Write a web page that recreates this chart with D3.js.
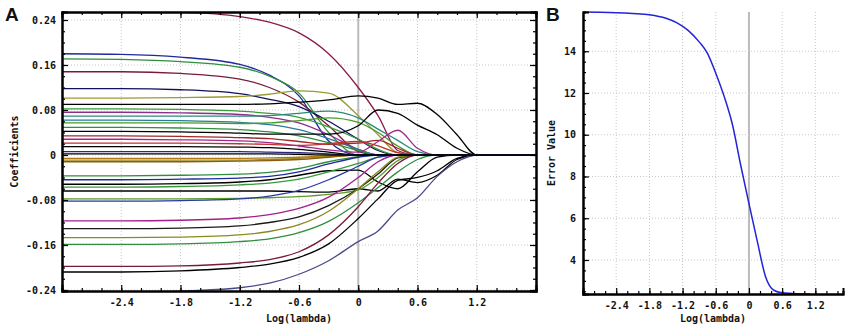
<!DOCTYPE html>
<html>
<head>
<meta charset="utf-8">
<script src="https://cdn.jsdelivr.net/npm/d3@7"></script>
<style>
  body { margin: 0; background: #fff; }
  text { font-family: "DejaVu Sans Mono", "Liberation Mono", monospace; font-size: 10px; font-weight: bold; fill: #111; }
  .panel { font-family: "Liberation Sans", Arial, sans-serif; font-size: 19px; font-weight: bold; }
</style>
</head>
<body>
<div id="chart"></div>
<script>
const lambdaKnots = [-3.0, -2.4, -1.8, -1.2, -0.9, -0.6, -0.3, 0, 0.2, 0.4, 0.6, 0.8, 1.0, 1.2, 1.8];

// coefficient paths (panel A), one row per variable
const coefSeries = [
  [0.256, 0.256, 0.254, 0.246, 0.236, 0.217, 0.180, 0.120, 0.070, 0.008, 0, 0, 0, 0, 0],
  [0.180, 0.179, 0.174, 0.161, 0.142, 0.105, 0.025, 0, 0, 0, 0, 0, 0, 0, 0],
  [0.171, 0.170, 0.166, 0.156, 0.140, 0.110, 0.040, 0, 0, 0, 0, 0, 0, 0, 0],
  [0.148, 0.148, 0.145, 0.135, 0.120, 0.094, 0.052, 0.006, 0, 0, 0, 0, 0, 0, 0],
  [0.118, 0.118, 0.116, 0.109, 0.099, 0.086, 0.060, 0.028, 0.008, 0, 0, 0, 0, 0, 0],
  [0.101, 0.101, 0.102, 0.104, 0.108, 0.114, 0.110, 0.070, 0.036, 0.004, 0, 0, 0, 0, 0],
  [0.090, 0.090, 0.090, 0.090, 0.091, 0.094, 0.098, 0.105, 0.101, 0.090, 0.092, 0.072, 0.036, 0, 0],
  [0.082, 0.082, 0.081, 0.078, 0.074, 0.067, 0.050, 0.028, 0.010, 0, 0, 0, 0, 0, 0],
  [0.076, 0.076, 0.075, 0.072, 0.067, 0.057, 0.036, 0.010, 0, 0, 0, 0, 0, 0, 0],
  [0.069, 0.069, 0.069, 0.069, 0.070, 0.074, 0.078, 0.066, 0.046, 0.026, 0.006, 0, 0, 0, 0],
  [0.062, 0.062, 0.061, 0.058, 0.054, 0.045, 0.029, 0.010, 0, 0, 0, 0, 0, 0, 0],
  [0.057, 0.057, 0.057, 0.056, 0.057, 0.061, 0.066, 0.058, 0.040, 0.016, 0, 0, 0, 0, 0],
  [0.049, 0.049, 0.048, 0.045, 0.041, 0.034, 0.022, 0.008, 0, 0, 0, 0, 0, 0, 0],
  [0.042, 0.042, 0.041, 0.039, 0.037, 0.037, 0.037, 0.052, 0.080, 0.074, 0.053, 0.036, 0.012, 0, 0],
  [0.034, 0.034, 0.033, 0.031, 0.029, 0.024, 0.019, 0.021, 0.026, 0.012, 0, 0, 0, 0, 0],
  [0.028, 0.028, 0.027, 0.025, 0.022, 0.016, 0.009, 0.005, 0.024, 0.044, 0.012, 0, 0, 0, 0],
  [0.021, 0.021, 0.021, 0.020, 0.019, 0.017, 0.020, 0.024, 0.016, 0.004, 0, 0, 0, 0, 0],
  [-0.006, -0.006, -0.006, -0.006, -0.005, -0.004, -0.002, 0, 0, 0, 0, 0, 0, 0, 0],
  [-0.009, -0.009, -0.009, -0.009, -0.008, -0.006, -0.003, 0, 0, 0, 0, 0, 0, 0, 0],
  [-0.012, -0.012, -0.012, -0.011, -0.010, -0.008, -0.004, 0, 0, 0, 0, 0, 0, 0, 0],
  [-0.037, -0.037, -0.036, -0.034, -0.031, -0.024, -0.012, -0.003, 0, 0, 0, 0, 0, 0, 0],
  [-0.044, -0.044, -0.043, -0.041, -0.038, -0.030, -0.016, -0.004, 0, 0, 0, 0, 0, 0, 0],
  [-0.052, -0.052, -0.051, -0.048, -0.044, -0.036, -0.028, -0.027, -0.048, -0.060, -0.030, -0.004, 0, 0, 0],
  [-0.057, -0.057, -0.056, -0.053, -0.050, -0.043, -0.030, -0.015, -0.004, 0, 0, 0, 0, 0, 0],
  [-0.064, -0.064, -0.064, -0.064, -0.064, -0.065, -0.066, -0.060, -0.064, -0.043, -0.049, -0.036, -0.008, 0, 0],
  [-0.078, -0.078, -0.078, -0.077, -0.076, -0.074, -0.070, -0.062, -0.040, -0.010, 0, 0, 0, 0, 0],
  [-0.082, -0.082, -0.081, -0.078, -0.073, -0.063, -0.044, -0.020, -0.004, 0, 0, 0, 0, 0, 0],
  [-0.117, -0.117, -0.116, -0.112, -0.106, -0.095, -0.075, -0.040, -0.012, 0, 0, 0, 0, 0, 0],
  [-0.131, -0.131, -0.130, -0.126, -0.120, -0.110, -0.090, -0.060, -0.034, -0.005, 0, 0, 0, 0, 0],
  [-0.147, -0.147, -0.146, -0.142, -0.136, -0.124, -0.100, -0.060, -0.030, -0.004, 0, 0, 0, 0, 0],
  [-0.159, -0.159, -0.158, -0.154, -0.149, -0.138, -0.118, -0.085, -0.058, -0.030, -0.008, 0, 0, 0, 0],
  [-0.198, -0.198, -0.197, -0.192, -0.186, -0.172, -0.142, -0.092, -0.050, -0.015, 0, 0, 0, 0, 0],
  [-0.208, -0.208, -0.206, -0.200, -0.194, -0.182, -0.158, -0.113, -0.078, -0.045, -0.040, -0.028, -0.006, 0, 0],
  [-0.250, -0.247, -0.242, -0.236, -0.228, -0.212, -0.188, -0.154, -0.135, -0.098, -0.076, -0.038, -0.012, 0, 0],
  [0.015, 0.015, 0.015, 0.014, 0.013, 0.010, 0.005, 0, 0, 0, 0, 0, 0, 0, 0],
  [0.006, 0.006, 0.006, 0.006, 0.005, 0.004, 0.002, 0, 0, 0, 0, 0, 0, 0, 0],
  [0.002, 0.002, 0.002, 0.002, 0.002, 0.001, 0, 0, 0, 0, 0, 0, 0, 0, 0]
];

const coefColors = [
  "#8b1a4b", "#1f2a9c", "#2f8f3f", "#7a1a3a", "#101060", "#9b9b2f", "#000000", "#3a9a3a",
  "#8b2f8b", "#2a8a7a", "#2a7a9a", "#4a9a2a", "#2f8f3f", "#000000", "#a02a2a", "#a02a8a",
  "#c03030", "#b07a10", "#9a8a20", "#8a5a10", "#2f8f3f", "#1f2a9c", "#000000", "#3a9a3a",
  "#000000", "#5a9a2a", "#2a3aa0", "#a0208a", "#1a1a1a", "#8a8a20", "#2f8f3f", "#7a1a3a",
  "#000000", "#4a4a8a", "#000000", "#2a2a7a", "#000000"
];

// cross-validation error (panel B)
const errLambda = [-3.0, -2.7, -2.4, -2.1, -1.8, -1.5, -1.3, -1.1, -0.9, -0.75, -0.6, -0.45, -0.3, -0.15, 0, 0.15, 0.3, 0.45, 0.6, 0.8, 1.0, 1.1];
const errValue  = [15.88, 15.87, 15.85, 15.81, 15.75, 15.58, 15.36, 15.0, 14.45, 13.9, 12.95, 11.85, 10.5, 8.55, 6.7, 4.9, 3.2, 2.55, 2.43, 2.40, 2.37, 2.37];

// ticks
const xTicks = [-2.4, -1.8, -1.2, -0.6, 0, 0.6, 1.2];
const xTickLabels = ["-2.4", "-1.8", "-1.2", "-0.6", "0", "0.6", "1.2"];
const coefTicks = [-0.24, -0.16, -0.08, 0, 0.08, 0.16, 0.24];
const coefTickLabels = ["-0.24", "-0.16", "-0.08", "0", "0.08", "0.16", "0.24"];
const errTicks = [4, 6, 8, 10, 12, 14];
const errTickLabels = ["4", "6", "8", "10", "12", "14"];

const svg = d3.select("#chart").append("svg")
    .attr("width", 850)
    .attr("height", 329);

// ---------- Panel A ----------
const A = { left: 62, right: 536, top: 12, bottom: 291 };
const xA = d3.scaleLinear().domain([-3.0, 1.8]).range([A.left, A.right]);
const yA = d3.scaleLinear().domain([-0.2418, 0.2542]).range([A.bottom, A.top]);

svg.append("defs").append("clipPath").attr("id", "clipA")
  .append("rect").attr("x", A.left).attr("y", A.top)
  .attr("width", A.right - A.left).attr("height", A.bottom - A.top);

// grid
const gA = svg.append("g");
gA.selectAll(".vg").data(xTicks).enter().append("line")
    .attr("x1", d => xA(d)).attr("x2", d => xA(d))
    .attr("y1", A.top).attr("y2", A.bottom)
    .attr("stroke", d => d === 0 ? "#bbb" : "#c8c8c8")
    .attr("stroke-width", d => d === 0 ? 2 : 1)
    .attr("stroke-dasharray", d => d === 0 ? null : "1,2");
gA.selectAll(".hg").data(coefTicks).enter().append("line")
    .attr("x1", A.left).attr("x2", A.right)
    .attr("y1", d => yA(d)).attr("y2", d => yA(d))
    .attr("stroke", "#c8c8c8").attr("stroke-dasharray", "1,2");

// coefficient paths
const lineA = d3.line()
    .x((d, i) => xA(lambdaKnots[i]))
    .y(d => yA(d))
    .curve(d3.curveMonotoneX);

svg.append("g").attr("clip-path", "url(#clipA)")
  .selectAll("path").data(coefSeries).enter().append("path")
    .attr("d", lineA)
    .attr("fill", "none")
    .attr("stroke", (d, i) => coefColors[i])
    .attr("stroke-width", 1.3);

// axes
function minorAxis(axis, scale, values, size) {
  return axis(scale).tickValues(values).tickSize(size).tickFormat("");
}
const xMinorA = d3.range(-2.8, 1.8, 0.2).map(v => +v.toFixed(1));
const yMinorA = d3.range(-0.24, 0.25, 0.02).map(v => +v.toFixed(2));

svg.append("g").attr("transform", `translate(0,${A.bottom})`)
    .call(minorAxis(d3.axisBottom, xA, xMinorA, -3));
svg.append("g").attr("transform", `translate(0,${A.top})`)
    .call(minorAxis(d3.axisTop, xA, xMinorA, -3));
svg.append("g").attr("transform", `translate(${A.left},0)`)
    .call(minorAxis(d3.axisLeft, yA, yMinorA, -3));
svg.append("g").attr("transform", `translate(${A.right},0)`)
    .call(minorAxis(d3.axisRight, yA, yMinorA, -3));

svg.append("g").attr("class", "axis").attr("transform", `translate(0,${A.bottom})`)
    .call(d3.axisBottom(xA).tickValues(xTicks).tickSize(-6).tickPadding(8)
      .tickFormat((d, i) => xTickLabels[i]));
svg.append("g").attr("transform", `translate(0,${A.top})`)
    .call(d3.axisTop(xA).tickValues(xTicks).tickSize(-6).tickFormat(""));
svg.append("g").attr("class", "axis").attr("transform", `translate(${A.left},0)`)
    .call(d3.axisLeft(yA).tickValues(coefTicks).tickSize(-6).tickPadding(6)
      .tickFormat((d, i) => coefTickLabels[i]));
svg.append("g").attr("transform", `translate(${A.right},0)`)
    .call(d3.axisRight(yA).tickValues(coefTicks).tickSize(-6).tickFormat(""));

svg.append("text").attr("x", (A.left + A.right) / 2).attr("y", 322)
    .attr("text-anchor", "middle").text("Log(lambda)");
svg.append("text").attr("transform", `translate(18,${(A.top + A.bottom) / 2}) rotate(-90)`)
    .attr("text-anchor", "middle").text("Coefficients");
svg.append("text").attr("class", "panel").attr("x", 5).attr("y", 21).text("A");

// ---------- Panel B ----------
const B = { left: 583, right: 843, top: 12, bottom: 294 };
const xB = d3.scaleLinear().domain([-3.0, 1.7]).range([B.left, B.right]);
const yB = d3.scaleLinear().domain([2.37, 15.88]).range([B.bottom, B.top]);

const gB = svg.append("g");
gB.selectAll(".vg").data(xTicks).enter().append("line")
    .attr("x1", d => xB(d)).attr("x2", d => xB(d))
    .attr("y1", B.top).attr("y2", B.bottom)
    .attr("stroke", d => d === 0 ? "#bbb" : "#c8c8c8")
    .attr("stroke-width", d => d === 0 ? 2 : 1)
    .attr("stroke-dasharray", d => d === 0 ? null : "1,2");
gB.selectAll(".hg").data(errTicks).enter().append("line")
    .attr("x1", B.left).attr("x2", B.right - 2)
    .attr("y1", d => yB(d)).attr("y2", d => yB(d))
    .attr("stroke", "#c8c8c8").attr("stroke-dasharray", "1,2");

const lineB = d3.line()
    .x((d, i) => xB(errLambda[i]))
    .y(d => yB(d))
    .curve(d3.curveMonotoneX);

svg.append("path").datum(errValue)
    .attr("d", lineB)
    .attr("fill", "none")
    .attr("stroke", "#2424d8")
    .attr("stroke-width", 1.5);

const xMinorB = d3.range(-2.8, 1.7, 0.2).map(v => +v.toFixed(1));
const yMinorB = d3.range(2.5, 15.9, 0.5);

svg.append("g").attr("transform", `translate(0,${B.bottom})`)
    .call(minorAxis(d3.axisBottom, xB, xMinorB, -3));
svg.append("g").attr("transform", `translate(${B.left},0)`)
    .call(minorAxis(d3.axisLeft, yB, yMinorB, -3));
svg.append("g").attr("class", "axis").attr("transform", `translate(0,${B.bottom})`)
    .call(d3.axisBottom(xB).tickValues(xTicks).tickSize(-6).tickPadding(8)
      .tickFormat((d, i) => xTickLabels[i]));
svg.append("g").attr("class", "axis").attr("transform", `translate(${B.left},0)`)
    .call(d3.axisLeft(yB).tickValues(errTicks).tickSize(-6).tickPadding(7)
      .tickFormat((d, i) => errTickLabels[i]));

svg.append("text").attr("x", (B.left + B.right) / 2).attr("y", 322)
    .attr("text-anchor", "middle").text("Log(lambda)");
svg.append("text").attr("transform", `translate(555,${(B.top + B.bottom) / 2}) rotate(-90)`)
    .attr("text-anchor", "middle").text("Error Value");
svg.append("text").attr("class", "panel").attr("x", 546).attr("y", 21).text("B");

// axis styling
svg.selectAll(".domain").attr("stroke", "#000").attr("stroke-width", 2);
svg.selectAll(".tick line").attr("stroke", "#000").attr("stroke-width", 1.2);
svg.selectAll(".tick text").attr("font-family", null).attr("font-size", null);
</script>
</body>
</html>
